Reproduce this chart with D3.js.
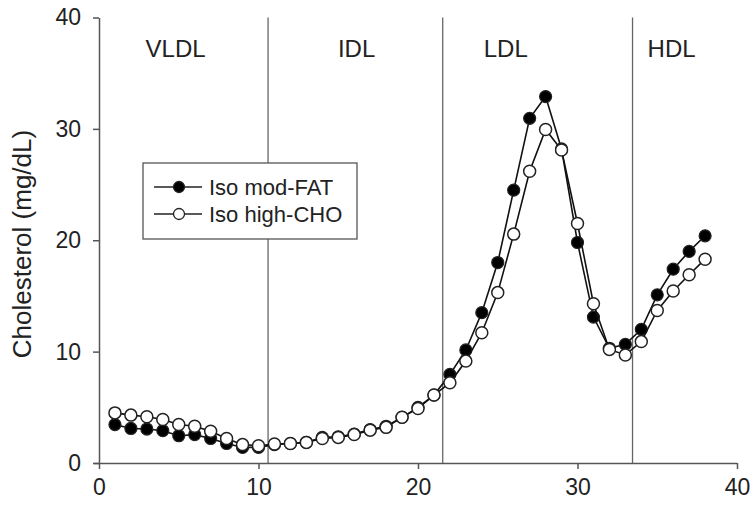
<!DOCTYPE html>
<html>
<head>
<meta charset="utf-8">
<script src="https://cdn.jsdelivr.net/npm/d3@7"></script>
<style>
  body { margin: 0; background: #fff; }
  text { font-family: "Liberation Sans", Arial, sans-serif; fill: #222; }
</style>
</head>
<body>
<div id="myDataVis"></div>
<script>
// fraction number (x) and cholesterol values for both diets
var fractions = [1,2,3,4,5,6,7,8,9,10,11,12,13,14,15,16,17,18,19,20,21,22,23,24,25,26,27,28,29,30,31,32,33,34,35,36,37,38];
var modFat = [3.45,3.1,3.05,2.9,2.45,2.55,2.2,1.75,1.4,1.4,1.65,1.75,1.85,2.3,2.35,2.6,3.0,3.3,4.1,5.0,6.1,7.95,10.15,13.5,18.0,24.5,30.95,32.9,28.2,19.8,13.1,10.3,10.65,12.0,15.1,17.4,19.0,20.4];
var highCho = [4.5,4.3,4.15,3.9,3.45,3.3,2.85,2.2,1.65,1.55,1.7,1.75,1.85,2.2,2.3,2.55,2.95,3.2,4.1,4.9,6.1,7.2,9.15,11.7,15.3,20.55,26.2,29.95,28.1,21.5,14.3,10.2,9.7,10.9,13.7,15.45,16.9,18.3];
var xTicks = [0, 10, 20, 30, 40];
var yTicks = [0, 10, 20, 30, 40];
// region borders and labels
var regionLines = [10.6, 21.55, 33.45];
var regionNames = ["VLDL", "IDL", "LDL", "HDL"];
var regionCenters = [4.8, 16.15, 25.5, 35.9];
var seriesNames = ["Iso mod-FAT", "Iso high-CHO"];

document.addEventListener('DOMContentLoaded', function () {
    var margin = {top: 17.5, right: 18, bottom: 53, left: 99},
        width = 755 - margin.left - margin.right,
        height = 516 - margin.top - margin.bottom;

    var svg = d3.select("#myDataVis")
        .append("svg")
            .attr("width", 755)
            .attr("height", 516)
        .append("g")
            .attr("transform", "translate(" + margin.left + "," + margin.top + ")");

    var x = d3.scaleLinear().domain([0, 40]).range([0, width]);
    var y = d3.scaleLinear().domain([0, 40]).range([height, 0]);

    // region separators
    svg.selectAll(".region-line")
        .data(regionLines)
        .enter()
        .append("line")
            .attr("class", "region-line")
            .attr("x1", function(d) { return x(d); })
            .attr("x2", function(d) { return x(d); })
            .attr("y1", y(40))
            .attr("y2", y(0))
            .attr("stroke", "#666")
            .attr("stroke-width", 1.3);

    svg.selectAll(".region-label")
        .data(regionNames)
        .enter()
        .append("text")
            .attr("class", "region-label")
            .attr("x", function(d, i) { return x(regionCenters[i]); })
            .attr("y", 39.5)
            .style("text-anchor", "middle")
            .style("font-size", "24px")
            .text(function(d) { return d; });

    // axes
    var xAxis = svg.append("g")
        .attr("transform", "translate(0," + height + ")")
        .call(d3.axisBottom(x).tickValues(xTicks).tickSize(6).tickSizeOuter(0).tickPadding(10));
    var yAxis = svg.append("g")
        .call(d3.axisLeft(y).tickValues(yTicks).tickSize(6).tickSizeOuter(0).tickPadding(12));

    [xAxis, yAxis].forEach(function(a) {
        a.select(".domain").attr("stroke", "#555").attr("stroke-width", 1.5);
        a.selectAll(".tick line").attr("stroke", "#555").attr("stroke-width", 1.5);
        a.selectAll(".tick text")
            .style("font-family", "'Liberation Sans', Arial, sans-serif")
            .style("font-size", "23px")
            .attr("fill", "#222");
    });
    // x axis line starts a bit left of the y axis
    xAxis.select(".domain").attr("d", "M-5,0.5H" + width);

    // y-axis title
    svg.append("text")
        .attr("transform", "rotate(-90)")
        .attr("x", -226.5)
        .attr("y", -margin.left + 31)
        .style("text-anchor", "middle")
        .style("font-size", "26px")
        .text("Cholesterol (mg/dL)");

    var line = d3.line()
        .x(function(d) { return x(d[0]); })
        .y(function(d) { return y(d[1]); });

    var fatPts = fractions.map(function(f, i) { return [f, modFat[i]]; });
    var choPts = fractions.map(function(f, i) { return [f, highCho[i]]; });

    // Iso mod-FAT
    svg.append("path")
        .datum(fatPts)
        .attr("d", line)
        .attr("fill", "none")
        .attr("stroke", "#111")
        .attr("stroke-width", 1.6);
    svg.selectAll(".fatCircle")
        .data(fatPts)
        .enter()
        .append("circle")
            .attr("class", "fatCircle")
            .attr("cx", function(d) { return x(d[0]); })
            .attr("cy", function(d) { return y(d[1]); })
            .attr("r", 6)
            .style("fill", "#000")
            .attr("stroke", "#222")
            .attr("stroke-width", 1.2);

    // Iso high-CHO
    svg.append("path")
        .datum(choPts)
        .attr("d", line)
        .attr("fill", "none")
        .attr("stroke", "#111")
        .attr("stroke-width", 1.6);
    svg.selectAll(".choCircle")
        .data(choPts)
        .enter()
        .append("circle")
            .attr("class", "choCircle")
            .attr("cx", function(d) { return x(d[0]); })
            .attr("cy", function(d) { return y(d[1]); })
            .attr("r", 6)
            .style("fill", "#fff")
            .attr("stroke", "#222")
            .attr("stroke-width", 1.5);

    // legend
    var legend = svg.append("g")
        .attr("transform", "translate(" + (143 - margin.left) + "," + (163 - margin.top) + ")");
    legend.append("rect")
        .attr("width", 214)
        .attr("height", 76)
        .attr("fill", "#fff")
        .attr("stroke", "#555")
        .attr("stroke-width", 1.3);
    seriesNames.forEach(function(name, i) {
        var ly = 24 + i * 27;
        legend.append("line")
            .attr("x1", 11).attr("x2", 59)
            .attr("y1", ly).attr("y2", ly)
            .attr("stroke", "#222")
            .attr("stroke-width", 1.4);
        legend.append("circle")
            .attr("cx", 36).attr("cy", ly)
            .attr("r", 5.5)
            .style("fill", i === 0 ? "#000" : "#fff")
            .attr("stroke", "#222")
            .attr("stroke-width", 1.3);
        legend.append("text")
            .attr("x", 66)
            .attr("y", ly + 8)
            .style("font-size", "22px")
            .text(name);
    });
});
</script>
</body>
</html>
